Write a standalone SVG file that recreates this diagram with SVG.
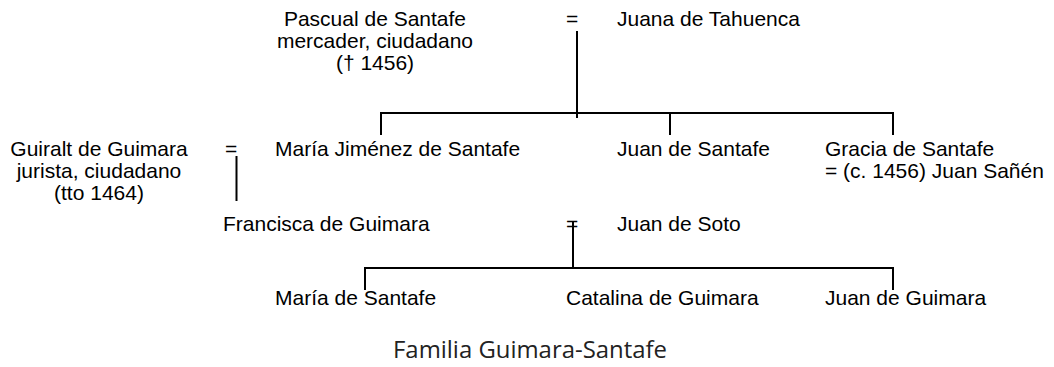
<svg xmlns="http://www.w3.org/2000/svg" width="1054" height="367" viewBox="0 0 1054 367">
<style>
text{font-family:"Liberation Sans",Arial,sans-serif;font-size:21px;fill:#000}
.c{text-anchor:middle}
.t{font-family:"Open Sans","Lato",sans-serif;font-size:24px;fill:#222;text-anchor:middle}
.ln{stroke:#000;stroke-width:2;fill:none}
</style>
<rect width="1054" height="367" fill="#fff"/>
<g id="connectors">
<path class="ln" d="M577,31V118"/>
<path class="ln" d="M381,135V113H893V135"/>
<path class="ln" d="M670,113V135"/>
<path class="ln" d="M236.5,156V201"/>
<path class="ln" d="M573,221V268"/>
<path class="ln" d="M365,290V268H893V290"/>
</g>
<g id="pascual"><text class="c" x="375" y="26">Pascual de Santafe</text><text class="c" x="375" y="48">mercader, ciudadano</text><text class="c" x="375" y="70">(† 1456)</text></g>
<g id="m1"><text x="566" y="26">=</text></g>
<g id="juana"><text x="617" y="26">Juana de Tahuenca</text></g>
<g id="guiralt"><text class="c" x="99" y="156">Guiralt de Guimara</text><text class="c" x="99" y="178">jurista, ciudadano</text><text class="c" x="99" y="200">(tto 1464)</text></g>
<g id="m2"><text x="225" y="156">=</text></g>
<g id="maria-jimenez"><text x="275" y="156">María Jiménez de Santafe</text></g>
<g id="juan-santafe"><text x="617" y="156">Juan de Santafe</text></g>
<g id="gracia"><text x="825" y="156">Gracia de Santafe</text><text x="825" y="178">= (c. 1456) Juan Sañén</text></g>
<g id="francisca"><text x="223" y="231">Francisca de Guimara</text></g>
<g id="m3"><text x="566" y="231">=</text></g>
<g id="juan-soto"><text x="617" y="231">Juan de Soto</text></g>
<g id="maria-santafe"><text x="275" y="305">María de Santafe</text></g>
<g id="catalina"><text x="566" y="305">Catalina de Guimara</text></g>
<g id="juan-guimara"><text x="825" y="305">Juan de Guimara</text></g>
<g id="title"><text class="t" x="530" y="358" textLength="274" lengthAdjust="spacingAndGlyphs">Familia Guimara-Santafe</text></g>
</svg>
